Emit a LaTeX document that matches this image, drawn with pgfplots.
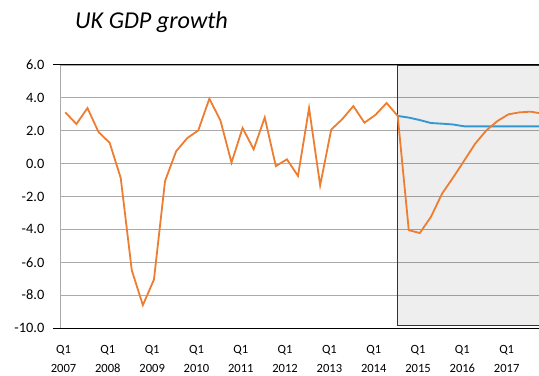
\documentclass[border=0pt]{standalone}
\usepackage{pgfplots}
\pgfplotsset{compat=1.18}
\usepackage{fontspec}
\setmainfont{Carlito}
\definecolor{gdporange}{RGB}{237,125,49}
\definecolor{gdpblue}{RGB}{52,152,210}
\definecolor{gridgray}{RGB}{170,170,170}
\pgfplotstableread{
idx val
0 3.12
1 2.41
2 3.38
3 1.92
4 1.27
5 -0.87
6 -6.49
7 -8.61
8 -7.05
9 -1.06
10 0.75
11 1.55
12 2.02
13 3.95
14 2.63
15 0.06
16 2.17
17 0.87
18 2.81
19 -0.15
20 0.26
21 -0.75
22 3.38
23 -1.32
24 2.07
25 2.71
26 3.50
27 2.49
28 2.97
29 3.69
30 2.90
31 -4.05
32 -4.22
33 -3.24
34 -1.83
35 -0.85
36 0.18
37 1.22
38 2.02
39 2.59
40 3.00
41 3.12
42 3.16
43 3.05
}\orangedata
\pgfplotstableread{
idx val
30 2.90
31 2.80
32 2.65
33 2.47
34 2.43
35 2.38
36 2.27
37 2.27
38 2.27
39 2.27
40 2.27
41 2.27
42 2.27
43 2.27
}\bluedata
\newcommand{\yfont}{\fontsize{14.4}{17}\selectfont}
\newcommand{\xfont}{\fontsize{12.6}{19}\selectfont}
\begin{document}
\begin{tikzpicture}[x=1bp,y=1bp]
\useasboundingbox (0,0) rectangle (539,375);
\clip (0,0) rectangle (539,375);
\begin{axis}[
  at={(60bp,47bp)}, anchor=south west,
  scale only axis, width=492.8bp, height=263bp,
  xmin=-0.48, xmax=44, ymin=-10, ymax=6,
  clip=false,
  axis line style={draw=none},
  ytick={-10,-8,...,6},
  yticklabels={{\yfont -10.0},{\yfont -8.0},{\yfont -6.0},{\yfont -4.0},{\yfont -2.0},{\yfont 0.0},{\yfont 2.0},{\yfont 4.0},{\yfont 6.0}},
  xtick={0,4,...,40},
  xticklabels={Q1\\2007,Q1\\2008,Q1\\2009,Q1\\2010,Q1\\2011,Q1\\2012,Q1\\2013,Q1\\2014,Q1\\2015,Q1\\2016,Q1\\2017},
  major tick length=0pt,
  ymajorgrids, grid style={gridgray, line width=0.9bp},
  yticklabel style={anchor=east, inner sep=0pt, xshift=-15.5bp},
  xticklabel style={font=\xfont, align=center, anchor=north, inner sep=0pt, yshift=-17bp, xshift=-1.8bp},
]
\draw[draw=black!80, line width=0.9bp, fill=black, fill opacity=0.065] (axis cs:29.95,5.96) rectangle (axis cs:46,-9.87);
\addplot[gdpblue, line width=1.9bp, no marks] table[x=idx,y=val] {\bluedata};
\addplot[gdporange, line width=1.8bp, no marks] table[x=idx,y=val] {\orangedata};
\draw[gridgray, line width=0.9bp] (rel axis cs:0,0) -- (rel axis cs:0,1);
\draw[black, line width=1bp] (rel axis cs:-0.014,1) -- (rel axis cs:1,1);
\draw[black, line width=1bp] (rel axis cs:-0.014,0) -- (rel axis cs:1,0);
\end{axis}
\node[anchor=base west, inner sep=0pt, font=\fontsize{24.3}{28}\selectfont\itshape] at (75,346.7) {UK GDP growth};
\end{tikzpicture}
\end{document}
